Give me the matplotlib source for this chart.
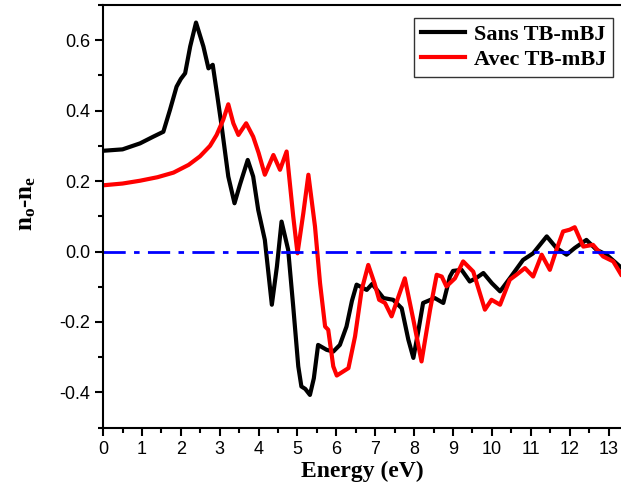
import matplotlib.pyplot as plt
from matplotlib.ticker import MultipleLocator

plt.rcParams['mathtext.fontset'] = 'custom'
plt.rcParams['mathtext.rm'] = 'Liberation Serif'
plt.rcParams['mathtext.bf'] = 'Liberation Serif:bold'

# Sans TB-mBJ (courbe noire)
x_sans = [0.0, 0.5, 0.95, 1.29, 1.55, 1.72, 1.89, 2.0, 2.11, 2.24, 2.39, 2.58, 2.71,
          2.82, 2.94, 3.05, 3.22, 3.38, 3.52, 3.72, 3.86, 3.99, 4.16, 4.34, 4.47,
          4.59, 4.76, 4.89, 5.02, 5.1, 5.2, 5.32, 5.42, 5.53, 5.75, 5.92, 6.09, 6.26,
          6.4, 6.52, 6.78, 6.92, 7.21, 7.46, 7.68, 7.85, 7.98, 8.1, 8.23, 8.53, 8.75,
          8.92, 9.0, 9.22, 9.43, 9.6, 9.78, 10.0, 10.21, 10.46, 10.8, 11.06, 11.41,
          11.66, 11.92, 12.13, 12.43, 12.69, 12.95, 13.32]
y_sans = [0.286, 0.29, 0.307, 0.326, 0.34, 0.402, 0.468, 0.49, 0.506, 0.582, 0.65,
          0.582, 0.52, 0.53, 0.44, 0.355, 0.213, 0.137, 0.19, 0.26, 0.213, 0.118,
          0.033, -0.151, -0.043, 0.085, 0.005, -0.156, -0.326, -0.383, -0.39, -0.407,
          -0.36, -0.265, -0.279, -0.284, -0.265, -0.213, -0.14, -0.094, -0.109,
          -0.092, -0.132, -0.137, -0.161, -0.25, -0.302, -0.23, -0.146, -0.132,
          -0.146, -0.071, -0.055, -0.052, -0.085, -0.075, -0.061, -0.09, -0.113,
          -0.076, -0.024, -0.005, 0.043, 0.01, -0.009, 0.01, 0.033, 0.005, -0.009,
          -0.045]

# Avec TB-mBJ (courbe rouge)
x_avec = [0.0, 0.5, 0.95, 1.4, 1.81, 2.2, 2.49, 2.75, 2.92, 3.09, 3.22, 3.35, 3.48,
          3.68, 3.86, 4.0, 4.16, 4.38, 4.55, 4.72, 4.89, 5.0, 5.15, 5.28, 5.45, 5.58,
          5.71, 5.79, 5.92, 6.01, 6.31, 6.48, 6.65, 6.82, 6.98, 7.1, 7.25, 7.42, 7.76,
          7.98, 8.19, 8.41, 8.58, 8.71, 8.83, 9.05, 9.26, 9.52, 9.82, 9.99, 10.21,
          10.46, 10.63, 10.85, 11.06, 11.28, 11.49, 11.66, 11.83, 12.0, 12.13, 12.35,
          12.6, 12.86, 13.12, 13.32]
y_avec = [0.188, 0.193, 0.201, 0.211, 0.224, 0.246, 0.27, 0.3, 0.331, 0.374, 0.418,
          0.364, 0.331, 0.364, 0.326, 0.28, 0.218, 0.274, 0.232, 0.284, 0.1, -0.005,
          0.109, 0.218, 0.071, -0.09, -0.213, -0.222, -0.326, -0.352, -0.331, -0.241,
          -0.109, -0.038, -0.09, -0.137, -0.146, -0.184, -0.076, -0.194, -0.312,
          -0.165, -0.066, -0.071, -0.099, -0.076, -0.028, -0.057, -0.165, -0.137,
          -0.151, -0.08, -0.066, -0.047, -0.071, -0.009, -0.052, 0.005, 0.057, 0.062,
          0.069, 0.014, 0.019, -0.014, -0.028, -0.065]

fig = plt.figure(figsize=(6.21, 4.93), dpi=100)
ax = fig.add_axes([0.166, 0.1325, 0.834, 0.8575])

ax.plot(x_sans, y_sans, color='black', lw=3, label='Sans TB-mBJ',
        solid_joinstyle='round')
ax.plot(x_avec, y_avec, color='red', lw=3, label='Avec TB-mBJ',
        solid_joinstyle='round')
ax.axhline(0, color='blue', lw=2, ls='-.', dashes=(8, 3, 2, 3))

ax.set_xlim(0, 13.32)
ax.set_ylim(-0.5, 0.7)
ax.xaxis.set_major_locator(MultipleLocator(1))
ax.xaxis.set_minor_locator(MultipleLocator(0.5))
ax.yaxis.set_minor_locator(MultipleLocator(0.1))
ax.set_yticks([-0.4, -0.2, 0.0, 0.2, 0.4, 0.6])
ax.set_yticklabels(['-0.4', '-0.2', '0.0', '0.2', '0.4', '0.6'])
ax.tick_params(which='major', direction='out', length=6, width=1.5,
               labelsize=13, labelfontfamily='Liberation Sans')
ax.tick_params(which='minor', direction='out', length=3.5, width=1.5)
ax.spines['right'].set_visible(False)
for s in ['left', 'bottom', 'top']:
    ax.spines[s].set_linewidth(1.5)

ax.set_xlabel('Energy (eV)', fontsize=17, fontweight='bold',
              family='Liberation Serif', labelpad=2)
# étiquette Y un peu au-dessus du centre, comme dans l'original
fig.text(0.042, 0.588, r'$\mathbf{n_o}$-$\mathbf{n_e}$', rotation=90,
         ha='center', va='center', fontsize=18, fontweight='bold',
         family='Liberation Serif')

leg = ax.legend(loc='upper right', bbox_to_anchor=(0.997, 0.985),
                prop={'family': 'Liberation Serif', 'weight': 'bold', 'size': 16},
                frameon=True, fancybox=False, edgecolor='black',
                handlelength=2.0, handletextpad=0.4, borderpad=0.3,
                labelspacing=0.2, borderaxespad=0.3)
leg.get_frame().set_linewidth(1.0)

fig.savefig('out.png', dpi=100)
